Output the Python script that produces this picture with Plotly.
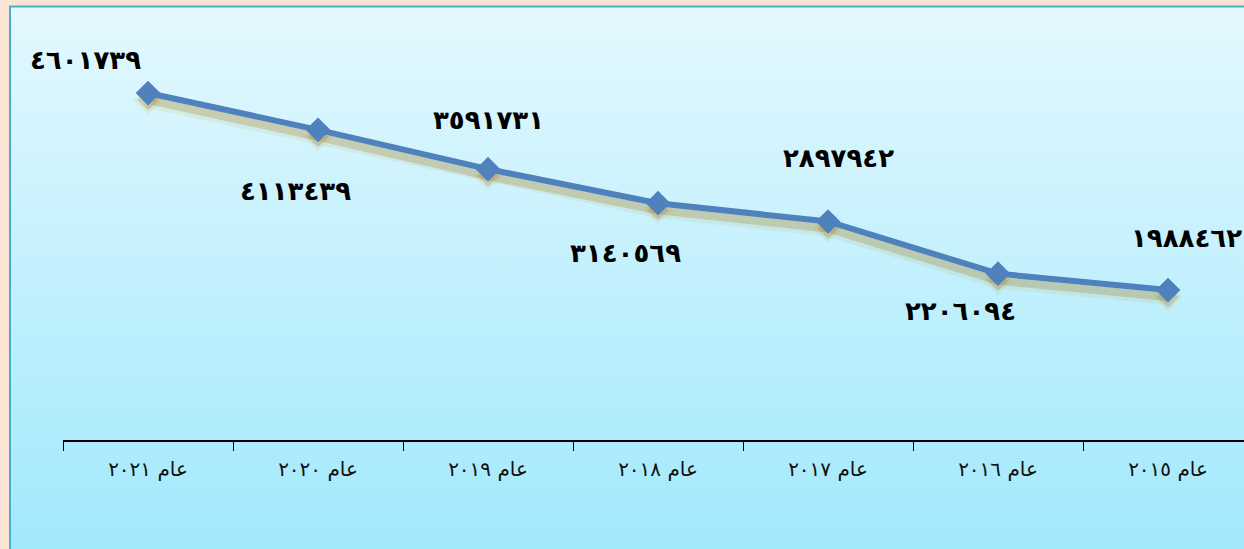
import base64
import plotly.graph_objects as go

years = ["عام ٢٠٢١", "عام ٢٠٢٠", "عام ٢٠١٩", "عام ٢٠١٨", "عام ٢٠١٧", "عام ٢٠١٦", "عام ٢٠١٥"]
values = [4601739, 4113439, 3591731, 3140569, 2897942, 2206094, 1988462]
value_labels = ["٤٦٠١٧٣٩", "٤١١٣٤٣٩", "٣٥٩١٧٣١", "٣١٤٠٥٦٩", "٢٨٩٧٩٤٢", "٢٢٠٦٠٩٤", "١٩٨٨٤٦٢"]

W, H = 1244, 549
svg = f'''<svg xmlns="http://www.w3.org/2000/svg" width="{W}" height="{H}" viewBox="0 0 {W} {H}">
<defs><linearGradient id="g" x1="0" y1="0" x2="0" y2="1">
<stop offset="0" stop-color="#e4f8fe"/><stop offset="1" stop-color="#9ee8fc"/></linearGradient></defs>
<rect x="0" y="0" width="{W}" height="{H}" fill="#fde5d6"/>
<rect x="10" y="6.5" width="{W+20}" height="{H+20}" fill="url(#g)" stroke="#4aaecb" stroke-width="2"/>
</svg>'''
bg = "data:image/svg+xml;base64," + base64.b64encode(svg.encode()).decode()

x0 = 63 / W
ybot = (H - 440) / H
ytop = (H - 63) / H
sh = 7 / H

fig = go.Figure()
# soft shadow layers (on the lower, shifted axis 'y', drawn first)
fig.add_trace(go.Scatter(x=years, y=values, mode="lines+markers", xaxis="x", yaxis="y",
                         line=dict(color="rgba(190,145,30,0.10)", width=16),
                         marker=dict(symbol="diamond", size=22, color="rgba(190,145,30,0.10)"),
                         hoverinfo="skip", showlegend=False))
fig.add_trace(go.Scatter(x=years, y=values, mode="lines+markers", xaxis="x", yaxis="y",
                         line=dict(color="rgba(160,115,20,0.25)", width=8),
                         marker=dict(symbol="diamond", size=16, color="rgba(160,115,20,0.25)"),
                         hoverinfo="skip", showlegend=False))
fig.add_trace(go.Scatter(x=years, y=values, mode="lines+markers", xaxis="x", yaxis="y2",
                         line=dict(color="#4f81bd", width=6),
                         marker=dict(symbol="diamond", size=19, color="#4f81bd"),
                         showlegend=False))

offsets = [(-63, 33), (-23, -61), (0, 49), (-33, -50), (10, 64), (-38, -37), (18, 52)]
for xv, yv, lab, (dx, dy) in zip(years, values, value_labels, offsets):
    fig.add_annotation(x=xv, y=yv, xref="x", yref="y2", text=lab, showarrow=False,
                       xshift=dx, yshift=dy,
                       font=dict(family="DejaVu Sans", size=26, color="black", weight="bold"))

fig.update_layout(
    width=W, height=H,
    margin=dict(l=0, r=0, t=0, b=0),
    paper_bgcolor="rgba(0,0,0,0)", plot_bgcolor="rgba(0,0,0,0)",
    images=[dict(source=bg, xref="paper", yref="paper", x=0, y=1, sizex=1, sizey=1,
                 xanchor="left", yanchor="top", sizing="stretch", layer="below")],
    xaxis=dict(domain=[x0, 1], type="category", categoryorder="array", categoryarray=years,
               range=[-0.5, (W - 63) / 170 - 0.5], tickson="boundaries", ticks="outside",
               ticklen=9, tickcolor="black", showline=True, linecolor="black", linewidth=1.5,
               showgrid=False, zeroline=False, ticklabelstandoff=10, anchor="y2",
               tickfont=dict(family="DejaVu Sans", size=20, color="#111")),
    yaxis=dict(domain=[ybot - sh, ytop - sh], range=[0, 5000000], visible=False),
    yaxis2=dict(domain=[ybot, ytop], range=[0, 5000000], visible=False),
)
fig.write_html("out.html", config={"displayModeBar": False},
               post_script="document.body.style.margin='0';document.body.style.overflow='hidden';")
